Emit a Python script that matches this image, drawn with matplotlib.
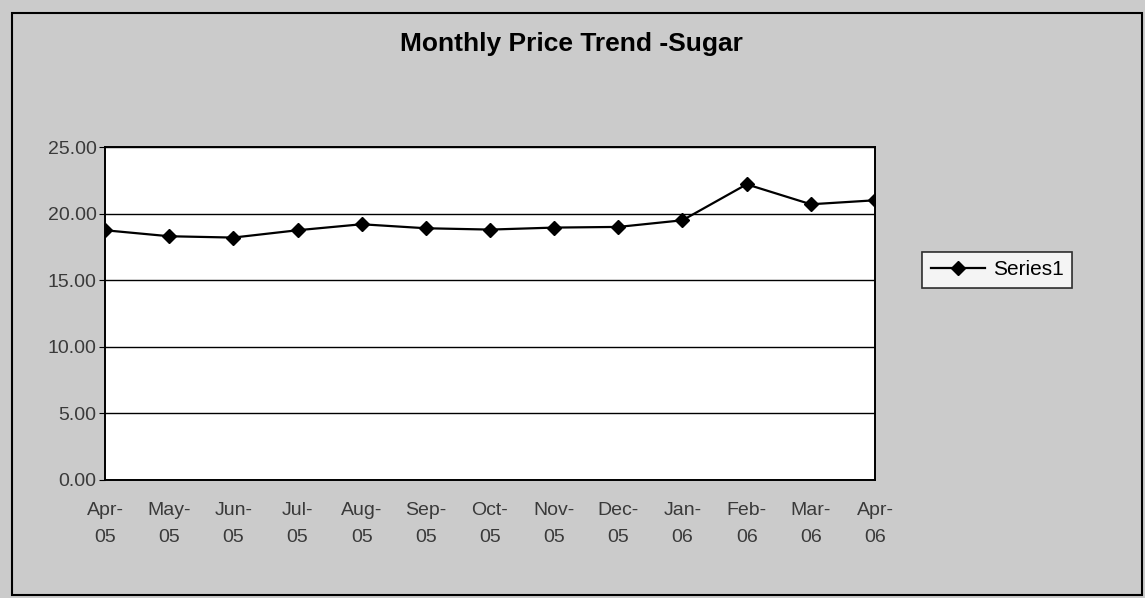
import matplotlib
matplotlib.use("Agg")
import matplotlib.pyplot as plt
from matplotlib.patches import Rectangle

# ===== data =====
months = ["Apr-\n05", "May-\n05", "Jun-\n05", "Jul-\n05", "Aug-\n05", "Sep-\n05", "Oct-\n05",
          "Nov-\n05", "Dec-\n05", "Jan-\n06", "Feb-\n06", "Mar-\n06", "Apr-\n06"]
prices = [18.75, 18.3, 18.2, 18.75, 19.2, 18.9, 18.8, 18.95, 19.0, 19.5, 22.2, 20.7, 21.0]
yticks = [0, 5, 10, 15, 20, 25]

plt.rcParams["font.family"] = ["Liberation Sans", "DejaVu Sans"]

W, H = 1145, 598
fig = plt.figure(figsize=(W / 100, H / 100), dpi=100)
fig.patch.set_facecolor("#cbcbcb")

# outer chart border
fig.add_artist(Rectangle((12 / W, 3 / H), 1130 / W, 582 / H, transform=fig.transFigure,
                         fill=False, edgecolor="black", linewidth=1.5))

ax = fig.add_axes([105 / W, 1 - 480 / H, 770 / W, 333 / H])
ax.set_facecolor("white")
x = list(range(len(months)))
ax.plot(x, prices, color="black", linewidth=1.6, marker="D", markersize=7,
        label="Series1")

ax.set_xlim(0, len(months) - 1)
ax.set_ylim(0, 25)
ax.set_yticks(yticks)
ax.set_yticklabels([f"{v:.2f}" for v in yticks], fontsize=14, color="#3a3a3a")
ax.set_xticks(x)
ax.set_xticklabels(months, fontsize=14, color="#3a3a3a", linespacing=1.75)
ax.tick_params(axis="x", length=0, pad=16)
ax.tick_params(axis="y", length=4, pad=2)
ax.grid(axis="y", color="black", linewidth=1.0)
for s in ax.spines.values():
    s.set_color("black")
    s.set_linewidth(1.4)

fig.text(571 / W, 1 - 44 / H, "Monthly Price Trend -Sugar", ha="center", va="center",
         fontsize=19, fontweight="bold")

leg = fig.legend(loc="center left", bbox_to_anchor=(912 / W, 1 - 270 / H), fontsize=15,
                 frameon=True, fancybox=False, handlelength=2.6, borderpad=0.4,
                 handletextpad=0.4)
leg.get_frame().set_edgecolor("black")
leg.get_frame().set_linewidth(1.2)

fig.savefig("out.png", dpi=100, facecolor=fig.get_facecolor())
